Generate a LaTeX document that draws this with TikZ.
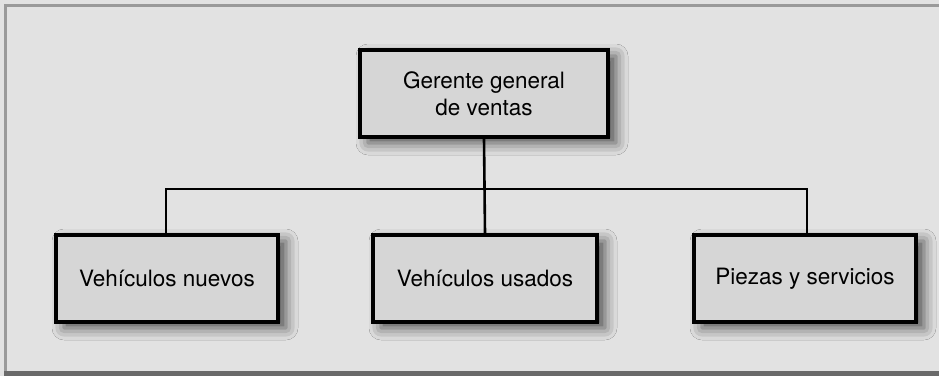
\documentclass[tikz,border=0pt]{standalone}
\usepackage{fontspec}
\setmainfont{TeX Gyre Heros}
\usetikzlibrary{shadows.blur}
\definecolor{bgc}{HTML}{E2E2E2}
\definecolor{boxc}{HTML}{D6D6D6}
\definecolor{frameL}{HTML}{9A9A9A}
\definecolor{frameB}{HTML}{6A6A6A}
\tikzset{
  orgbox/.style={draw=black, line width=3.2pt, fill=boxc, inner sep=0pt,
    font=\fontsize{22.5}{27}\selectfont, align=center,
    blur shadow={shadow xshift=8pt, shadow yshift=-6pt, shadow blur radius=12pt, shadow opacity=65}},
  conn/.style={line width=2.6pt, draw=black}
}
\begin{document}
\begin{tikzpicture}[x=1pt,y=-1pt]
\useasboundingbox (0,0) rectangle (939,376);
\fill[bgc] (0,0) rectangle (939,376);
\fill[frameL] (4,4) rectangle (939,7);
\fill[frameL] (4,4) rectangle (7,376);
\fill[frameB] (4,371) rectangle (939,376);
\node[orgbox, minimum width=248pt, minimum height=87pt] (g) at (484,93.5) {Gerente general\\de ventas};
\node[orgbox, minimum width=222pt, minimum height=87pt] (a) at (167,278.5) {Vehículos nuevos};
\node[orgbox, minimum width=224pt, minimum height=87pt] (b) at (485,278.5) {Vehículos usados};
\node[orgbox, minimum width=222pt, minimum height=87pt] (c) at (805,278.5) {Piezas y servicios};
\coordinate (h) at (484,189);
\draw[conn] (g.south) -- (b.north);
\draw[conn] (a.north -| 166,0) |- (h) -| (c.north -| 807,0);
\end{tikzpicture}
\end{document}
